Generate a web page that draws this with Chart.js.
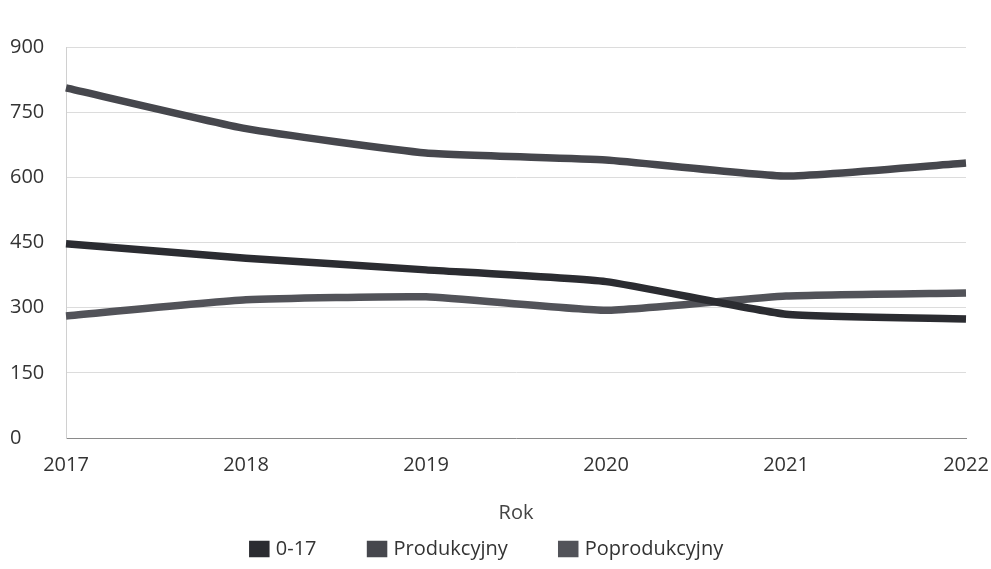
<!DOCTYPE html>
<html>
<head>
<meta charset="utf-8">
<script src="https://cdn.jsdelivr.net/npm/chart.js@4"></script>
<style>
html,body{margin:0;padding:0;background:#fff;}
#wrap{width:991px;height:569px;position:relative;}
</style>
</head>
<body>
<div id="wrap"><canvas id="c" width="991" height="569"></canvas></div>
<script>
const years = ['2017','2018','2019','2020','2021','2022'];
const seriesNames = ['0-17','Produkcyjny','Poprodukcyjny'];
const age0to17 = [447, 414, 387, 360, 285, 274];
const produkcyjny = [806, 712, 656, 640, 603, 633];
const poprodukcyjny = [281, 318, 325, 294, 327, 334];
const yTicks = [0, 150, 300, 450, 600, 750, 900];
const colors = ['#2b2c31', '#46474d', '#525359'];

const FONT = 'Open Sans';
const ctx = document.getElementById('c');
new Chart(ctx, {
  type: 'line',
  data: {
    labels: years,
    datasets: [
      {label: seriesNames[0], data: age0to17, borderColor: colors[0], backgroundColor: colors[0]},
      {label: seriesNames[1], data: produkcyjny, borderColor: colors[1], backgroundColor: colors[1]},
      {label: seriesNames[2], data: poprodukcyjny, borderColor: colors[2], backgroundColor: colors[2]}
    ].map(d => Object.assign(d, {borderWidth: 7.5, pointRadius: 0, tension: 0.15, fill: false}))
  },
  options: {
    responsive: false,
    animation: false,
    layout: {padding: {left: 10, right: 25, top: 47, bottom: 0}},
    plugins: {
      legend: {
        position: 'bottom',
        labels: {
          font: {family: FONT, size: 20},
          color: '#333',
          boxWidth: 13,
          boxHeight: 9,
          padding: 54
        }
      },
      tooltip: {enabled: false}
    },
    scales: {
      x: {
        type: 'category',
        offset: false,
        afterFit: s => { s.height = 47; s.paddingRight = 0; },
        grid: {display: false},
        border: {color: '#8a8a8a', width: 1},
        ticks: {font: {family: FONT, size: 20}, color: '#333', padding: 7, maxRotation: 0},
        title: {display: true, text: 'Rok', font: {family: FONT, size: 20}, color: '#444', padding: {top: 0, bottom: -40}}
      },
      y: {
        min: 0, max: 900,
        afterBuildTicks: s => { s.ticks = yTicks.map(v => ({value: v})); },
        afterFit: s => { s.width = 56; },
        grid: {color: '#dcdcdc', lineWidth: 1, drawTicks: false},
        border: {color: '#d0d0d0'},
        ticks: {font: {family: FONT, size: 20}, color: '#333', crossAlign: 'far', padding: 8}
      }
    }
  }
});
</script>
</body>
</html>
